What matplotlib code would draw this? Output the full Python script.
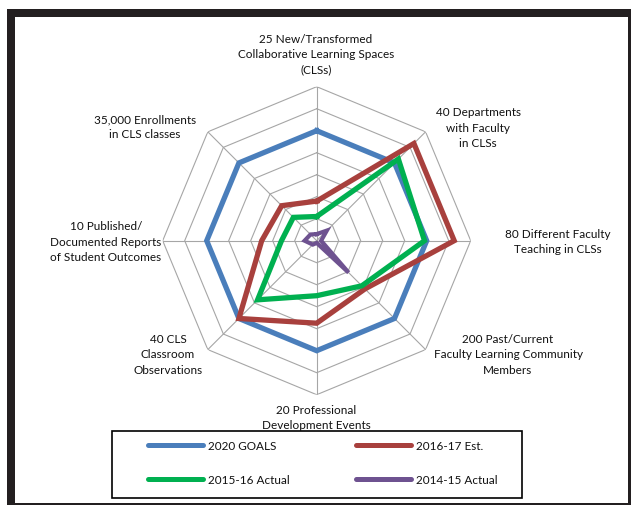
import matplotlib
matplotlib.use('Agg')
import matplotlib.pyplot as plt
import numpy as np
from matplotlib.lines import Line2D
from matplotlib.patches import Rectangle

# ---------------- data (fraction of 2020 goal) ----------------
categories = [
    "25 New/Transformed\nCollaborative Learning Spaces\n(CLSs)",
    "40 Departments\nwith Faculty\nin CLSs",
    "80 Different Faculty\nTeaching in CLSs",
    "200 Past/Current\nFaculty Learning Community\nMembers",
    "20 Professional\nDevelopment Events",
    "40 CLS\nClassroom\nObservations",
    "10 Published/\nDocumented Reports\nof Student Outcomes",
    "35,000 Enrollments\nin CLS classes",
]
goals_2020 = [1.0, 1.0, 1.0, 1.0, 1.0, 1.0, 1.0, 1.0]
est_2016_17 = [0.36, 1.25, 1.25, 0.62, 0.75, 1.0, 0.5, 0.45]
actual_2015_16 = [0.22, 1.05, 0.98, 0.58, 0.5, 0.76, 0.32, 0.30]
actual_2014_15 = [0.06, 0.13, 0.04, 0.41, 0.02, 0.05, 0.11, 0.08]
series_names = ["2020 GOALS", "2016-17 Est.", "2015-16 Actual", "2014-15 Actual"]
ring_levels = [0.2, 0.4, 0.6, 0.8, 1.0, 1.2, 1.4]
r_max = 1.4

colors = ["#4A7EBB", "#A8403D", "#00B050", "#6E5290"]
FONT = ["Lato", "DejaVu Sans"]
FS = 8.5

W, H = 631, 506
fig = plt.figure(figsize=(W / 100, H / 100), dpi=100)

def fx(x):
    return x / W

def fy(y):
    return 1 - y / H

cx, cy, R = 316.7, 241.7, 154
ax = fig.add_axes([fx(cx - R), fy(cy + R), 2 * R / W, 2 * R / H], projection='polar')
ax.set_theta_zero_location('N')
ax.set_theta_direction(-1)
ax.set_ylim(0, r_max)
ax.set_axis_off()

n = len(categories)
angles = np.linspace(0, 2 * np.pi, n, endpoint=False)
closed = np.append(angles, angles[0])

grid_c = "#A6A6A6"
for r in ring_levels:
    ax.plot(closed, [r] * (n + 1), color=grid_c, lw=0.8, zorder=1)
for a in angles:
    ax.plot([a, a], [0, r_max], color=grid_c, lw=0.8, zorder=1)

all_series = [goals_2020, est_2016_17, actual_2015_16, actual_2014_15]
lws = [3.8, 3.8, 3.8, 3.0]
for i, (vals, c, lw) in enumerate(zip(all_series, colors, lws)):
    v = list(vals) + [vals[0]]
    ax.plot(closed, v, color=c, lw=lw, solid_joinstyle='miter', zorder=3 + i)

# category labels (pixel positions of label centres)
label_pos = [
    (316, 55), (478, 128), (558, 242), (508, 355),
    (316, 418), (168, 355), (106, 242), (145, 127),
]
for txt, (x, y) in zip(categories, label_pos):
    fig.text(fx(x), fy(y), txt, ha='center', va='center', fontsize=FS,
             family=FONT, color='#111111', linespacing=1.45, multialignment='center')

# legend
handles = [Line2D([], [], color=c, lw=3.6, solid_capstyle='round') for c in colors]
order = [0, 2, 1, 3]
fs_px = FS * 100 / 72
leg = fig.legend([handles[i] for i in order], [series_names[i] for i in order],
                 ncol=2, loc='upper left', bbox_to_anchor=(fx(148), fy(441)),
                 frameon=False, borderaxespad=0, borderpad=0,
                 handlelength=55 / fs_px, handletextpad=5 / fs_px,
                 columnspacing=5.6, labelspacing=1.95,
                 prop={'family': FONT, 'size': FS})
for t in leg.get_texts():
    t.set_color('#111111')

fig.add_artist(Rectangle((fx(112), fy(499)), 410 / W, 67 / H, transform=fig.transFigure,
                         fill=False, ec='black', lw=1.2))

# outer dark frame
fc = "#231F20"
fig.add_artist(Rectangle((fx(7), 0), 8 / W, fy(10), transform=fig.transFigure, fc=fc, ec='none'))
fig.add_artist(Rectangle((fx(7), fy(18)), 1 - fx(7), 8 / H, transform=fig.transFigure, fc=fc, ec='none'))
fig.add_artist(Rectangle((fx(628), 0), 3 / W, fy(10), transform=fig.transFigure, fc=fc, ec='none'))
fig.add_artist(Rectangle((fx(7), 0), 1 - fx(7), 2 / H, transform=fig.transFigure, fc=fc, ec='none'))

fig.savefig("out.png", dpi=100)
